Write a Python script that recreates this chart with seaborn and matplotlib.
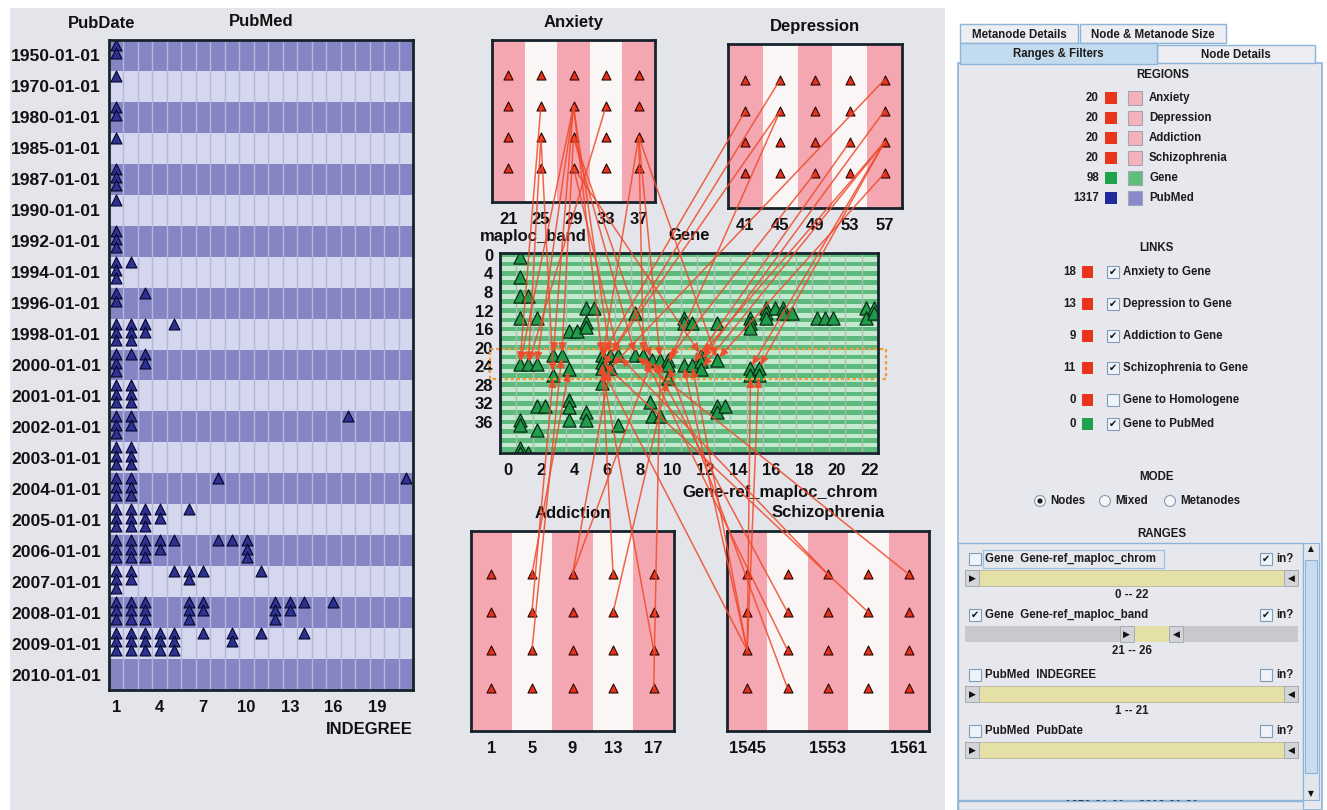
import matplotlib
matplotlib.use('Agg')
import seaborn as sns
import matplotlib.pyplot as plt
from matplotlib.patches import Rectangle, Circle, ConnectionPatch

W, H = 1327, 810

# ---------------- PubMed region ----------------
pub_dates = ['1950-01-01', '1970-01-01', '1980-01-01', '1985-01-01', '1987-01-01',
             '1990-01-01', '1992-01-01', '1994-01-01', '1996-01-01', '1998-01-01',
             '2000-01-01', '2001-01-01', '2002-01-01', '2003-01-01', '2004-01-01',
             '2005-01-01', '2006-01-01', '2007-01-01', '2008-01-01', '2009-01-01',
             '2010-01-01']
indegree_ticks = [1, 4, 7, 10, 13, 16, 19]

# one entry per (year, indegree) cell; count = how many nodes are stacked in it
pm_year = [1950, 1970, 1980, 1985, 1987, 1990, 1992,
           1994, 1994,
           1996, 1996,
           1998, 1998, 1998, 1998,
           2000, 2000, 2000,
           2001, 2001,
           2002, 2002, 2002,
           2003, 2003,
           2004, 2004, 2004, 2004,
           2005, 2005, 2005, 2005, 2005,
           2006, 2006, 2006, 2006, 2006, 2006, 2006, 2006,
           2007, 2007, 2007, 2007, 2007, 2007,
           2008, 2008, 2008, 2008, 2008, 2008, 2008, 2008, 2008,
           2009, 2009, 2009, 2009, 2009, 2009, 2009, 2009, 2009]
pm_indegree = [1, 1, 1, 1, 1, 1, 1,
               1, 2,
               1, 3,
               1, 2, 3, 5,
               1, 2, 3,
               1, 2,
               1, 2, 17,
               1, 2,
               1, 2, 8, 21,
               1, 2, 3, 4, 6,
               1, 2, 3, 4, 5, 8, 9, 10,
               1, 2, 5, 6, 7, 11,
               1, 2, 3, 6, 7, 12, 13, 14, 16,
               1, 2, 3, 4, 5, 7, 9, 11, 14]
pm_count = [2, 1, 2, 1, 3, 1, 3,
            3, 1,
            2, 1,
            3, 3, 2, 1,
            3, 1, 2,
            3, 3,
            3, 2, 1,
            3, 3,
            3, 3, 1, 1,
            3, 3, 3, 2, 1,
            3, 3, 3, 2, 1, 1, 1, 3,
            3, 2, 1, 2, 1, 1,
            3, 3, 3, 3, 2, 3, 2, 1, 1,
            3, 3, 3, 3, 3, 1, 2, 1, 1]

# ---------------- Gene region ----------------
chrom_ticks = [0, 2, 4, 6, 8, 10, 12, 14, 16, 18, 20, 22]
band_ticks = [0, 4, 8, 12, 16, 20, 24, 28, 32, 36]
band_extent = (0, 42)
band_range = (21, 26)

gene_chrom = [0.71, 0.71, 0.71, 1.22, 0.71, 1.73, 0.71, 1.22, 1.73, 2.74,
              3.26, 2.74, 3.70, 3.70, 4.21, 4.72, 5.23, 4.72, 4.72, 5.70,
              5.70, 5.70, 6.20, 6.20, 6.71, 5.70, 7.73, 7.73, 8.23, 8.74,
              9.25, 9.70, 9.70, 9.70, 10.67, 10.67, 11.18, 10.67, 11.18, 11.73,
              11.73, 11.73, 12.71, 12.71, 12.71, 12.71, 13.21, 14.74, 14.74, 14.74,
              14.74, 14.74, 15.24, 15.24, 15.71, 15.71, 15.71, 16.22, 16.73, 16.73,
              17.24, 18.76, 19.27, 19.78, 21.75, 21.75, 22.26, 22.26, 8.64, 8.74,
              9.25, 3.70, 3.70, 3.70, 4.72, 4.72, 6.71, 1.73, 2.24, 0.71,
              0.71, 1.73, 0.71, 1.22, 0.71]
gene_band = [0.5, 4.7, 8.8, 8.8, 13.6, 13.6, 23.6, 23.6, 23.6, 21.6,
             21.6, 25.9, 24.6, 16.5, 16.5, 11.5, 11.5, 14.4, 15.6, 21.6,
             23.0, 24.4, 21.6, 24.4, 21.6, 27.7, 12.6, 21.6, 21.6, 22.6,
             22.6, 22.6, 23.7, 26.6, 13.6, 14.7, 14.7, 23.7, 23.7, 21.6,
             22.8, 24.6, 14.7, 22.6, 32.5, 33.8, 32.5, 13.6, 14.7, 15.8,
             24.4, 25.9, 24.4, 25.9, 11.5, 12.6, 13.6, 11.5, 11.5, 12.6,
             12.6, 13.6, 13.6, 13.6, 11.5, 13.6, 11.5, 12.6, 31.7, 34.8,
             34.8, 31.2, 32.7, 35.6, 33.8, 35.6, 36.6, 32.5, 32.5, 35.6,
             36.6, 37.7, 41.7, 42.6, 42.6]

# ---------------- disease regions (5 columns x 4 nodes) ----------------
nodes_per_col = 4
anx_cols = [21, 25, 29, 33, 37]
dep_cols = [41, 45, 49, 53, 57]
add_cols = [1, 5, 9, 13, 17]
sch_cols = [1545, 1549, 1553, 1557, 1561]
sch_ticks = [1545, 1553, 1561]

# links: (source column, node row, gene index)
anx_links = [(25, 1, 6), (25, 2, 7), (29, 1, 8), (29, 1, 9), (29, 1, 19), (29, 1, 22),
             (29, 2, 10), (29, 2, 27), (29, 2, 29), (29, 3, 24), (29, 3, 39), (33, 1, 7),
             (37, 2, 20), (37, 2, 28), (37, 2, 43), (37, 2, 30), (29, 1, 6), (25, 2, 11)]
dep_links = [(41, 1, 19), (45, 0, 21), (45, 1, 22), (57, 0, 23), (57, 1, 40), (57, 2, 39),
             (57, 2, 41), (57, 2, 50), (57, 2, 52), (57, 3, 43), (49, 3, 31), (53, 2, 38),
             (45, 1, 32)]
add_links = [(5, 0, 12), (5, 1, 11), (5, 2, 10), (9, 0, 23), (13, 0, 20), (13, 1, 33),
             (17, 2, 21), (17, 3, 30), (9, 0, 29)]
sch_links = [(1545, 2, 37), (1545, 2, 21), (1545, 2, 38), (1545, 2, 51), (1545, 2, 53),
             (1549, 1, 29), (1549, 2, 28), (1549, 3, 32), (1553, 0, 24), (1557, 1, 20),
             (1561, 0, 27)]

# ---------------- side panel ----------------
region_names = ['Anxiety', 'Depression', 'Addiction', 'Schizophrenia', 'Gene', 'PubMed']
region_counts = [20, 20, 20, 20, 98, 1317]
node_colors = ['#e8341c', '#e8341c', '#e8341c', '#e8341c', '#1fa34a', '#22299a']
region_colors = ['#f6b2bc', '#f6b2bc', '#f6b2bc', '#f6b2bc', '#5cbf7c', '#8a8acb']
link_names = ['Anxiety to Gene', 'Depression to Gene', 'Addiction to Gene',
              'Schizophrenia to Gene', 'Gene to Homologene', 'Gene to PubMed']
link_counts = [len(anx_links), len(dep_links), len(add_links), len(sch_links), 0, 0]
link_colors = ['#e8341c', '#e8341c', '#e8341c', '#e8341c', '#e8341c', '#1fa34a']
link_checked = [True, True, True, True, False, True]
mode_names = ['Nodes', 'Mixed', 'Metanodes']
range_names = ['Gene  Gene-ref_maploc_chrom', 'Gene  Gene-ref_maploc_band',
               'PubMed  INDEGREE', 'PubMed  PubDate']
range_enabled = [False, True, False, False]
range_in = [True, True, False, False]
range_text = ['0 -- 22', f'{band_range[0]} -- {band_range[1]}', '1 -- 21',
              '1950-01-01 -- 2010-01-01']


sns.set_theme(style='white')
plt.rcParams['font.family'] = ['Liberation Sans', 'DejaVu Sans']
plt.rcParams['font.weight'] = 'bold'

fig = plt.figure(figsize=(W / 100, H / 100), dpi=100, facecolor='white')

bg = fig.add_axes([0, 0, 1, 1], zorder=-10)
bg.set_xlim(0, W)
bg.set_ylim(H, 0)
bg.axis('off')
bg.add_patch(Rectangle((10, 8), 935, H - 8, color='#e4e5ea', lw=0))


def px_axes(x0, y0, x1, y1):
    return fig.add_axes([x0 / W, 1 - y1 / H, (x1 - x0) / W, (y1 - y0) / H])


def frame(ax):
    for s in ax.spines.values():
        s.set_visible(True)
        s.set_color('#16222c')
        s.set_linewidth(2)
        s.set_zorder(6)
    ax.tick_params(length=0, labelsize=12, pad=7, colors='#111111')
    ax.set_xlabel('')
    ax.set_ylabel('')


def label(ax, text, xf, yf, dx, dy, ha='center'):
    ax.annotate(text, (xf, yf), xycoords='axes fraction', xytext=(dx, dy),
                textcoords='offset pixels', ha=ha, va='center', fontsize=12,
                fontweight='bold', color='#111111', annotation_clip=False)


# ---- PubMed
ax_pm = px_axes(109, 40, 413, 690)
for i in range(len(pub_dates)):
    ax_pm.axhspan(i - 0.5, i + 0.5, color='#8585c5' if i % 2 == 0 else '#d5d7ef', lw=0, zorder=0)
for k in range(1, 21):
    ax_pm.axvline(k + 0.5, color='#b3b7da', lw=1, zorder=1)
stack = [-0.34, -0.07, 0.2]
pm_x, pm_y = [], []
for yr, d, c in zip(pm_year, pm_indegree, pm_count):
    row = pub_dates.index(f'{yr}-01-01')
    for k in range(c):
        pm_x.append(d)
        pm_y.append(row + stack[k])
sns.scatterplot(x=pm_x, y=pm_y, marker='^', s=62, color='#2d3190', edgecolor='#05052a',
                linewidth=0.8, ax=ax_pm, zorder=3, legend=False)
ax_pm.set_xlim(0.5, 21.5)
ax_pm.set_ylim(len(pub_dates) - 0.5, -0.5)
ax_pm.set_xticks(indegree_ticks)
ax_pm.set_yticks(range(len(pub_dates)), pub_dates)
frame(ax_pm)
ax_pm.tick_params(axis='y', pad=6, labelsize=12.6)
label(ax_pm, 'PubMed', 0.5, 1, 0, 18)
label(ax_pm, 'PubDate', 0, 1, -7, 17)
label(ax_pm, 'INDEGREE', 1, 0, 0, -40, ha='right')

# ---- Gene
ax_g = px_axes(500, 253, 878, 453)
for b in range(-1, 43):
    ax_g.axhspan(b - 0.5, b + 0.5, color='#5cba7c' if b % 2 == 0 else '#c4e9cf', lw=0, zorder=0)
for k in range(22):
    ax_g.axvline(k + 0.5, color='#a9bdb4', lw=1, zorder=1)
sns.scatterplot(x=gene_chrom, y=gene_band, marker='^', s=90, color='#1f9b4a',
                edgecolor='#082a14', linewidth=0.9, ax=ax_g, zorder=3, legend=False)
ax_g.set_xlim(-0.5, 22.5)
ax_g.set_ylim(42.7, -0.4)
ax_g.set_xticks(chrom_ticks)
ax_g.set_yticks(band_ticks)
frame(ax_g)
ax_g.tick_params(axis='y', pad=5)
ax_g.add_patch(Rectangle((-1.1, band_range[0] - 0.7), 24.1, band_range[1] - band_range[0] + 1.5,
                         fill=False, ls=(0, (1.5, 1.2)), ec='#f39a3a', lw=1.6,
                         clip_on=False, zorder=4))
label(ax_g, 'Gene', 0.5, 1, 0, 17)
label(ax_g, 'maploc_band', 0, 1, -20, 17, ha='left')
label(ax_g, 'Gene-ref_maploc_chrom', 1, 0, 0, -40, ha='right')


# ---- disease regions
def draw_region(box, cols, ticks, title, dy=17):
    ax = px_axes(*box)
    for i in range(len(cols)):
        ax.axvspan(i - 0.5, i + 0.5, color='#f4a7b0' if i % 2 == 0 else '#fbf6f6', lw=0, zorder=0)
    nx = [i for i in range(len(cols)) for r in range(nodes_per_col)]
    ny = [r for i in range(len(cols)) for r in range(nodes_per_col)]
    sns.scatterplot(x=nx, y=ny, marker='^', s=42, color='#e5321d', edgecolor='#2b0703',
                    linewidth=0.8, ax=ax, zorder=3, legend=False)
    ax.set_xlim(-0.5, len(cols) - 0.5)
    ax.set_ylim(4.12, -1.14)
    ax.set_xticks([cols.index(t) for t in ticks], [str(t) for t in ticks])
    ax.set_yticks([])
    frame(ax)
    label(ax, title, 0.5, 1, 0, dy)
    return ax


ax_anx = draw_region((492, 40, 655, 202), anx_cols, anx_cols, 'Anxiety')
ax_dep = draw_region((728, 44, 902, 208), dep_cols, dep_cols, 'Depression')
ax_add = draw_region((471, 531, 674, 731), add_cols, add_cols, 'Addiction')
ax_sch = draw_region((727, 531, 929, 731), sch_cols, sch_ticks, 'Schizophrenia', dy=19)


def draw_links(ax_src, cols, links):
    for col, row, g in links:
        con = ConnectionPatch(xyA=(cols.index(col), row), coordsA=ax_src.transData,
                              xyB=(gene_chrom[g], gene_band[g]), coordsB=ax_g.transData,
                              arrowstyle='-|>,head_length=0.6,head_width=0.25',
                              mutation_scale=9, color='#f04a2a', lw=1.1, alpha=0.85,
                              shrinkA=0, shrinkB=2, zorder=10)
        fig.add_artist(con)


draw_links(ax_anx, anx_cols, anx_links)
draw_links(ax_dep, dep_cols, dep_links)
draw_links(ax_add, add_cols, add_links)
draw_links(ax_sch, sch_cols, sch_links)

# ---------------- side panel (drawn in pixel space) ----------------
UI = dict(fontsize=8.3, fontweight='bold', color='#1c1c1c', va='center')
SYM = dict(family='DejaVu Sans', va='center', ha='center', color='#111111')


def checkbox(x, y, checked):
    bg.add_patch(Rectangle((x, y - 6), 12, 12, facecolor='#eef3f9', edgecolor='#7f9db9', lw=0.8))
    if checked:
        bg.text(x + 6, y, '\u2714', fontsize=7, **SYM)


def slider(y0, x_lo=965, x_hi=1298, seg=None):
    h = 16
    if seg is None:
        bg.add_patch(Rectangle((x_lo, y0), x_hi - x_lo, h, facecolor='#e5e0a8', edgecolor='#b8b59a', lw=0.6))
        left, right = x_lo, x_hi - 14
    else:
        bg.add_patch(Rectangle((x_lo, y0), x_hi - x_lo, h, facecolor='#c8c9cf', lw=0))
        bg.add_patch(Rectangle((seg[0], y0), seg[1] - seg[0], h, facecolor='#e5e0a8', lw=0))
        left, right = seg[0] - 14, seg[1]
    for bx, sym in ((left, '\u25b6'), (right, '\u25c0')):
        bg.add_patch(Rectangle((bx, y0), 14, h, facecolor='#d2d4da', edgecolor='#a0a4ad', lw=0.6))
        bg.text(bx + 7, y0 + h / 2, sym, fontsize=6.5, **SYM)


bg.add_patch(Rectangle((958, 63), 364, H - 63, facecolor='#e7e8ed', edgecolor='#8db4d9', lw=1.2))
tabs = [((960, 24, 1078, 43), 'Metanode Details', '#eceef2'),
        ((1080, 24, 1226, 43), 'Node & Metanode Size', '#eceef2'),
        ((1157, 45, 1315, 63), 'Node Details', '#eceef2'),
        ((960, 43, 1157, 64), 'Ranges & Filters', '#c3dbef')]
for (x0, y0, x1, y1), name, fc in tabs:
    bg.add_patch(Rectangle((x0, y0), x1 - x0, y1 - y0, facecolor=fc, edgecolor='#8db4d9', lw=1))
    bg.text((x0 + x1) / 2, (y0 + y1) / 2 + 1, name, ha='center', **UI)

bg.text(1163, 75, 'REGIONS', ha='center', **UI)
for i, (n, c, nc, rc) in enumerate(zip(region_names, region_counts, node_colors, region_colors)):
    y = 98 + 20 * i
    bg.text(1099, y, str(c), ha='right', **UI)
    bg.add_patch(Rectangle((1105, y - 6), 12, 12, facecolor=nc, lw=0))
    bg.add_patch(Rectangle((1128, y - 7), 14, 14, facecolor=rc, edgecolor='#a0a6b4', lw=0.8))
    bg.text(1149, y, n, ha='left', **UI)

bg.text(1156, 248, 'LINKS', ha='center', **UI)
link_y = [272, 304, 336, 368, 400, 424]
for y, n, c, lc, ch in zip(link_y, link_names, link_counts, link_colors, link_checked):
    bg.text(1076, y, str(c), ha='right', **UI)
    bg.add_patch(Rectangle((1082, y - 6), 11, 12, facecolor=lc, lw=0))
    checkbox(1107, y, ch)
    bg.text(1123, y, n, ha='left', **UI)

bg.text(1156, 477, 'MODE', ha='center', **UI)
for i, (x, n) in enumerate(zip([1040, 1105, 1170], mode_names)):
    bg.add_patch(Circle((x, 501), 5.5, facecolor='#f3f5f8', edgecolor='#8a9ab0', lw=0.8))
    if i == 0:
        bg.add_patch(Circle((x, 501), 2.6, facecolor='#202020', lw=0))
    bg.text(x + 10, 501, n, ha='left', **UI)

bg.text(1162, 534, 'RANGES', ha='center', **UI)
bg.add_patch(Rectangle((958, 543), 345, 257, facecolor='#e7e8ed', edgecolor='#8db4d9', lw=1))
bg.add_patch(Rectangle((1303, 543), 16, 257, facecolor='#e1e5ec', edgecolor='#8db4d9', lw=0.8))
bg.add_patch(Rectangle((1305, 560), 12, 213, facecolor='#c8dcf0', edgecolor='#8db4d9', lw=0.8))
bg.text(1311, 549, '\u25b2', fontsize=5.5, **SYM)
bg.text(1311, 794, '\u25bc', fontsize=5.5, **SYM)

row_y = [559, 615, 675, 731]
for i, (y, n, en, inn) in enumerate(zip(row_y, range_names, range_enabled, range_in)):
    checkbox(969, y, en)
    bg.text(985, y, n, ha='left', **UI)
    checkbox(1260, y, inn)
    bg.text(1276, y, 'in?', ha='left', **UI)
    if i == 1:
        span = 1298 - 965
        lo = 965 + (band_range[0] - band_extent[0]) / (band_extent[1] - band_extent[0]) * span
        hi = 965 + (band_range[1] - band_extent[0]) / (band_extent[1] - band_extent[0]) * span
        slider(y + 11, seg=(lo + 2, hi - 2))
    else:
        slider(y + 11)
bg.add_patch(Rectangle((983, 550), 181, 18, fill=False, edgecolor='#9cc0e0', lw=0.9))
for y, t in zip([595, 651, 711], range_text[:3]):
    bg.text(1132, y, t, ha='center', **UI)
# last range label is scrolled mostly out of view
bg.text(1132, 806, range_text[3], ha='center', zorder=1, **UI)
bg.add_patch(Rectangle((958, 801), 345, H - 801, facecolor='#e7e8ed', edgecolor='#8db4d9',
                       lw=1, zorder=2))

fig.savefig('out.png', dpi=100, facecolor='white')
